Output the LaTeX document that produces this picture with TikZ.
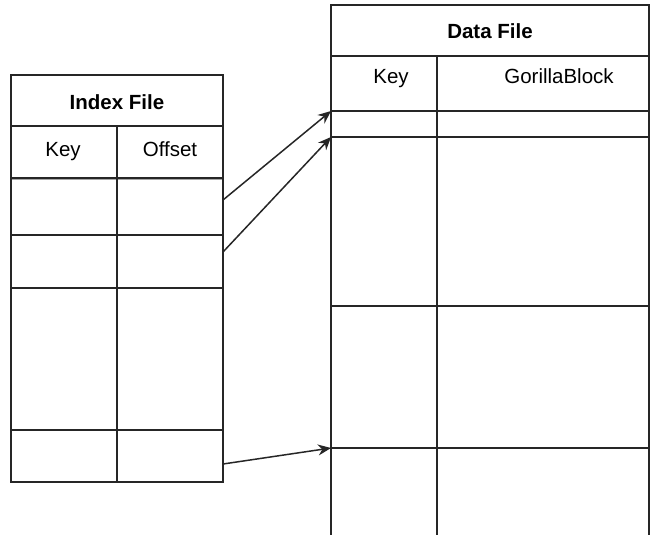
\documentclass[tikz,border=0pt]{standalone}
\usepackage{fontspec}
\setmainfont{Liberation Sans}
\usetikzlibrary{arrows.meta}
\begin{document}
\begin{tikzpicture}[x=1pt,y=-1pt,
  frame/.style={draw=black!85, line width=1.5pt},
  cell/.style={frame, rectangle, inner sep=0pt, outer sep=0pt, anchor=north west},
  blank/.style={rectangle, inner sep=0pt, outer sep=0pt, anchor=north west},
  lbl/.style={font=\fontsize{20.5}{24}\selectfont, inner sep=0pt, anchor=base},
  ttl/.style={font=\fontsize{20.5}{24}\selectfont\bfseries, inner sep=0pt, anchor=base},
  link/.style={draw=black!85, line width=1.5pt, -{Stealth[length=13pt,width=11pt]}}]
\useasboundingbox (0,0) rectangle (652,535);

% ---- Index File table ----
\node[cell, minimum width=212pt, minimum height=51pt] (ih) at (11,75) {};
\node[cell, minimum width=106pt, minimum height=52pt] (ik) at (11,126) {};
\node[cell, minimum width=106pt, minimum height=52pt] (io) at (117,126) {};
\draw[gray!70, line width=3pt] (ik.south west) -- (io.south east);
\node[cell, minimum width=106pt, minimum height=57pt] (i1k) at (11,178) {};
\node[cell, minimum width=106pt, minimum height=57pt] (i1o) at (117,178) {};
\node[cell, minimum width=106pt, minimum height=53pt] (i2k) at (11,235) {};
\node[cell, minimum width=106pt, minimum height=53pt] (i2o) at (117,235) {};
\node[cell, minimum width=106pt, minimum height=142pt] (i3k) at (11,288) {};
\node[cell, minimum width=106pt, minimum height=142pt] (i3o) at (117,288) {};
\node[cell, minimum width=106pt, minimum height=52pt] (i4k) at (11,430) {};
\node[cell, minimum width=106pt, minimum height=52pt] (i4o) at (117,430) {};

\node[ttl] (ititle) at (117,109) {Index File};
\node[lbl] (ikey) at (63,156) {Key};
\node[lbl] (ioff) at (170,156) {Offset};

% ---- Data File table ----
\node[cell, minimum width=318pt, minimum height=51pt] (dh) at (331,5) {};
\node[cell, minimum width=106pt, minimum height=55pt] (dk) at (331,56) {};
\node[cell, minimum width=212pt, minimum height=55pt] (dg) at (437,56) {};
\node[cell, minimum width=106pt, minimum height=26pt] (d1k) at (331,111) {};
\node[cell, minimum width=212pt, minimum height=26pt] (d1g) at (437,111) {};
\node[cell, minimum width=106pt, minimum height=169pt] (d2k) at (331,137) {};
\node[cell, minimum width=212pt, minimum height=169pt] (d2g) at (437,137) {};
\node[cell, minimum width=106pt, minimum height=142pt] (d3k) at (331,306) {};
\node[cell, minimum width=212pt, minimum height=142pt] (d3g) at (437,306) {};
% last row runs off the bottom edge: sides only
\node[blank, minimum width=106pt, minimum height=87pt] (d4k) at (331,448) {};
\node[blank, minimum width=212pt, minimum height=87pt] (d4g) at (437,448) {};
\draw[frame] (d4k.north west) -- (d4k.south west);
\draw[frame] (d4k.north east) -- (d4k.south east);
\draw[frame] (d4g.north east) -- (d4g.south east);

\node[ttl] (dtitle) at (490,38) {Data File};
\node[lbl] (dkey) at (391,83) {Key};
\node[lbl] (dblock) at (559,83) {GorillaBlock};

% ---- offsets pointing into the data file ----
\draw[link] ([yshift=6.5pt]i1o.east) -- (d1k.north west);
\draw[link] ([yshift=9.5pt]i2o.east) -- (d2k.north west);
\draw[link] ([yshift=-8pt]i4o.east) -- (d4k.north west);
\end{tikzpicture}
\end{document}
